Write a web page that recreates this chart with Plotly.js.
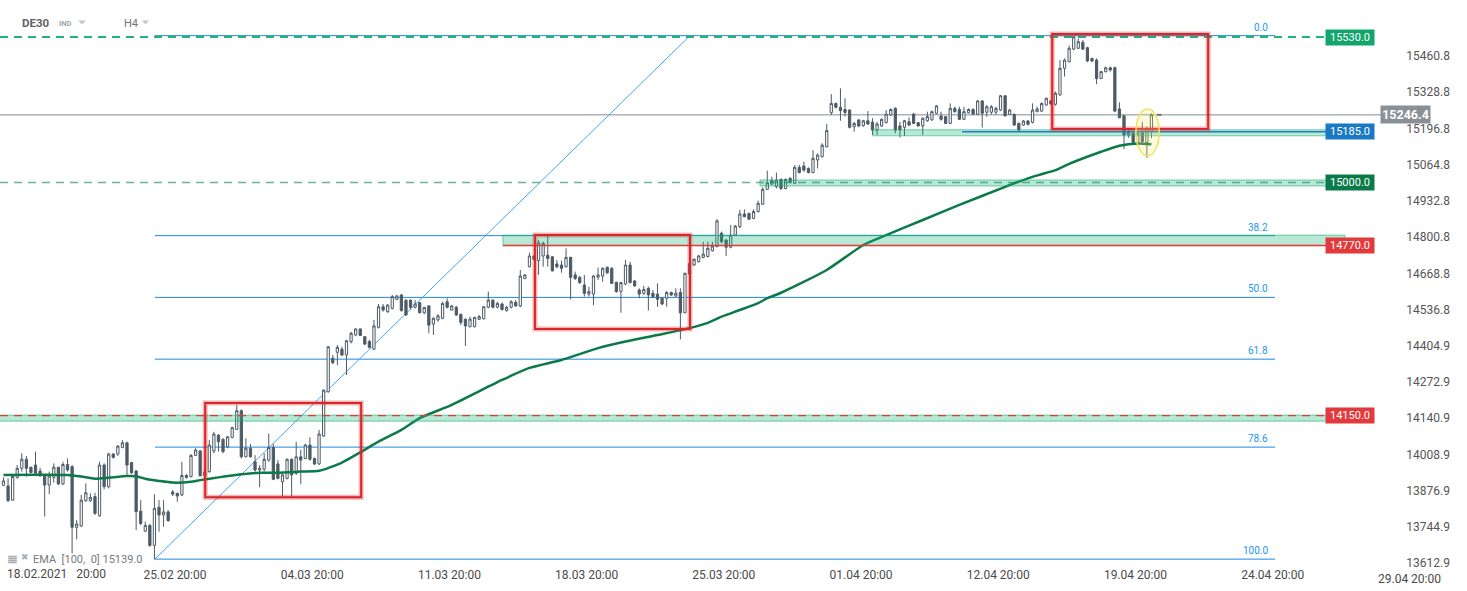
<!DOCTYPE html>
<html><head><meta charset="utf-8">
<script src="https://cdn.plot.ly/plotly-3.0.1.min.js"></script>
<style>html,body{margin:0;padding:0;background:#fff;}#chart{width:1467px;height:591px;}</style>
</head><body><div id="chart"></div>
<script>
// ---- DE30 H4 candles ----
const openP = [13896,13894,13842,13925,13958,13991,13962,13970,13948,13930,
13897,13925,13962,13901,13972,13964,13743,13748,13840,13840,
13855,13785,13970,13891,14010,14010,14034,14051,13979,13948,
13802,13729,13750,13677,13816,13788,13799,13872,13867,13861,
13932,13928,14005,14021,13931,13946,14021,14079,14064,14037,
14071,14100,14168,14000,14031,13982,13952,13955,13988,14034,
13974,13909,13921,13991,13940,14000,13994,14043,13994,13974,
14076,14237,14359,14381,14392,14371,14420,14444,14466,14438,
14420,14392,14472,14547,14529,14541,14574,14590,14571,14571,
14545,14562,14525,14550,14484,14499,14505,14565,14535,14545,
14519,14501,14474,14474,14501,14503,14545,14571,14545,14557,
14533,14545,14563,14550,14650,14693,14732,14715,14732,14735,
14729,14703,14699,14693,14727,14663,14654,14626,14593,14593,
14655,14659,14691,14687,14636,14602,14630,14699,14641,14608,
14596,14614,14596,14593,14578,14578,14599,14586,14599,14525,
14666,14699,14711,14727,14730,14751,14766,14815,14790,14764,
14808,14839,14885,14887,14869,14894,14921,14975,14994,14985,
15011,14978,15015,14997,15055,15060,15051,15036,15082,15094,
15130,15254,15288,15274,15266,15264,15203,15228,15207,15225,
15220,15191,15206,15218,15246,15270,15206,15201,15221,15249,
15218,15206,15225,15228,15252,15242,15240,15215,15270,15266,
15230,15254,15266,15248,15297,15256,15256,15256,15264,15316,
15248,15248,15215,15209,15224,15219,15258,15260,15282,15297,
15285,15319,15416,15440,15486,15489,15511,15491,15452,15446,
15379,15404,15418,15418,15268,15243,15173,15179,15139,15183,
15146,15185];
const highP = [13925,13921,13934,13970,14013,14003,13964,14019,13960,13934,
13946,13976,13964,13982,13994,13970,13770,13861,13903,13867,
13869,13982,13976,14015,14013,14043,14061,14055,13982,13952,
13842,13764,13755,13864,13842,13842,13806,13879,13869,13982,
13937,14010,14031,14025,13960,14061,14091,14083,14067,14076,
14110,14189,14173,14067,14047,14006,13970,14013,14085,14047,
13988,13940,13994,13994,14055,14025,14047,14071,13997,14098,
14246,14404,14371,14407,14401,14426,14456,14468,14468,14440,
14426,14499,14557,14557,14557,14590,14590,14593,14574,14574,
14571,14565,14547,14553,14508,14520,14565,14578,14553,14550,
14523,14505,14511,14511,14517,14550,14602,14574,14565,14562,
14550,14571,14571,14681,14666,14744,14735,14790,14784,14808,
14732,14717,14715,14760,14729,14675,14659,14663,14620,14663,
14690,14691,14693,14691,14638,14638,14717,14711,14644,14614,
14623,14620,14608,14632,14581,14604,14602,14614,14614,14671,
14711,14723,14736,14784,14784,14784,14866,14821,14793,14845,
14845,14900,14902,14890,14902,14934,14982,15043,15021,15036,
15015,15015,15019,15064,15064,15076,15055,15118,15106,15143,
15213,15322,15291,15343,15307,15266,15221,15230,15228,15260,
15234,15221,15234,15264,15270,15274,15221,15228,15237,15254,
15221,15237,15258,15262,15282,15258,15242,15288,15276,15276,
15276,15270,15270,15300,15300,15282,15282,15276,15319,15319,
15268,15252,15219,15228,15228,15288,15276,15292,15309,15300,
15331,15446,15452,15499,15535,15525,15519,15495,15455,15452,
15406,15422,15422,15422,15292,15246,15197,15187,15183,15221,
15203,15252];
const lowP = [13894,13836,13840,13921,13946,13928,13940,13934,13928,13782,
13864,13906,13897,13897,13946,13648,13699,13745,13836,13836,
13788,13782,13881,13885,13994,14003,14031,13934,13937,13733,
13751,13727,13672,13626,13727,13745,13764,13857,13836,13857,
13921,13925,14003,13928,13925,13942,14013,14019,14013,14031,
14067,14098,13994,13998,13997,13946,13889,13946,13982,13915,
13918,13855,13918,13855,13934,13900,13991,13986,13970,13970,
14073,14234,14338,14334,14367,14298,14413,14440,14440,14407,
14395,14389,14468,14529,14525,14537,14572,14529,14514,14537,
14541,14523,14520,14450,14444,14492,14501,14541,14533,14513,
14480,14404,14472,14472,14499,14501,14541,14541,14541,14533,
14529,14541,14547,14545,14647,14690,14715,14663,14693,14693,
14675,14687,14671,14690,14574,14644,14630,14584,14584,14553,
14645,14638,14666,14630,14598,14525,14626,14632,14620,14578,
14590,14533,14578,14547,14553,14547,14586,14584,14428,14523,
14663,14695,14708,14723,14727,14748,14764,14778,14732,14760,
14805,14833,14873,14863,14866,14890,14918,14973,14991,14978,
14972,14975,14997,14994,15033,15039,15033,15033,15051,15091,
15128,15246,15270,15225,15240,15197,15185,15201,15203,15209,
15173,15173,15203,15215,15242,15179,15164,15169,15206,15213,
15203,15173,15221,15225,15249,15225,15213,15213,15254,15228,
15228,15252,15246,15246,15200,15240,15248,15248,15260,15240,
15246,15207,15185,15206,15207,15215,15256,15256,15280,15282,
15280,15316,15386,15438,15483,15486,15483,15438,15438,15358,
15377,15401,15404,15256,15234,15122,15163,15143,15136,15143,
15090,15161];
const closeP = [13912,13840,13928,13958,13991,13958,13943,13940,13930,13897,
13930,13962,13901,13972,13952,13743,13755,13842,13869,13852,
13794,13970,13891,14010,13998,14039,14051,13970,13942,13800,
13757,13750,13677,13812,13788,13799,13767,13864,13857,13932,
13925,14005,14025,13931,13945,14043,14083,14055,14019,14073,
14106,14168,14000,14031,14000,13952,13958,13991,14034,13918,
13921,13934,13991,13934,14000,13988,14043,13991,13974,14083,
14243,14401,14343,14399,14371,14423,14450,14466,14442,14411,
14399,14477,14547,14535,14553,14584,14586,14533,14517,14545,
14557,14525,14544,14480,14505,14514,14559,14545,14550,14517,
14490,14477,14502,14508,14511,14547,14571,14545,14559,14537,
14545,14565,14550,14659,14663,14732,14720,14780,14778,14723,
14678,14693,14687,14727,14654,14650,14635,14596,14602,14659,
14663,14687,14671,14632,14602,14635,14699,14635,14623,14593,
14610,14590,14584,14574,14557,14599,14590,14596,14525,14669,
14705,14720,14732,14739,14760,14768,14860,14784,14764,14808,
14841,14885,14875,14866,14894,14924,14975,14999,15007,15009,
14978,15011,15003,15055,15036,15045,15036,15088,15100,15136,
15189,15288,15274,15262,15255,15201,15215,15206,15225,15213,
15191,15213,15230,15249,15266,15191,15191,15225,15209,15215,
15206,15234,15240,15258,15279,15230,15215,15270,15258,15230,
15258,15266,15249,15297,15252,15276,15276,15270,15316,15243,
15264,15209,15191,15224,15212,15264,15268,15288,15307,15287,
15325,15416,15446,15489,15531,15513,15486,15443,15443,15379,
15404,15418,15410,15260,15236,15173,15183,15146,15179,15149,
15197,15246.4];

// EMA(100) at selected bars
const emaBar   = [0,8,14,17,20,23,27,29,31,34,37,41,43,47,52,56,60,65,69,74,78,82,87,91,98,109,115,122,130,136,143,150,154,157,161,165,167,170,180,188,193,201,209,219,224,227,230,233,240,244,248,251];
const emaValue = [13934,13935,13934,13928,13920,13924,13930,13929,13920,13912,13906,13909,13915,13925,13936,13942,13942,13946,13949,13979,14016,14055,14098,14141,14189,14280,14324,14353,14396,14420,14444,14469,14488,14511,14535,14560,14578,14598,14681,14772,14808,14863,14918,14984,15015,15030,15045,15068,15112,15134,15142,15139];
const emaLabel = 'EMA  [100,  0] 15139.0';

// Axis tick labels
const xTickLabels = ['18.02.2021\u00a0\u00a0 20:00','25.02 20:00','04.03 20:00','11.03 20:00','18.03 20:00','25.03 20:00','01.04 20:00','12.04 20:00','19.04 20:00','24.04 20:00','29.04 20:00'];
const yTickValues = [15460.8,15328.8,15196.8,15064.8,14932.8,14800.8,14668.8,14536.8,14404.9,14272.9,14140.9,14008.9,13876.9,13744.9,13612.9];

// Marked price levels
const tagValues = [15530, 15185, 15000, 14770, 14150];
const tagLabels = ['15530.0','15185.0','15000.0','14770.0','14150.0'];
const lastPrice = 15246.4;
const fibRatios = [0, 38.2, 50, 61.8, 78.6, 100];
const fibHigh = 15535, fibLow = 13627;

// ---- layout helpers ----
const W = 1467, H = 591, MB = 25, PH = H - MB;
const X0 = 3.5, DX = 4.5735;              // pixel of bar 0, pixels per bar
const PX = p => p / W;                      // pixel -> paper x
const PY = p => 1 - p / PH;                 // pixel -> paper y
const bars = openP.map((_, i) => i);
const xMin = -X0 / DX, xMax = (W - X0) / DX;
const lvlEnd = (1345 - X0) / DX;
const fibStart = 33.1, fibEnd = (1275 - X0) / DX;
const firstTickBar = 7.5, barsPerWeek = 30;

const font = 'Roboto, "Open Sans", Arial, sans-serif';
const shapes = [];
const ann = [];

// zones (translucent green, drawn over candles)
const zones = [[-2, 14130, 14152], [109.2, 14770, 14808], [165.4, 14987, 15009], [190.1, 15170, 15192]];
zones.forEach(z => shapes.push({type:'rect', xref:'x', yref:'y', x0:z[0], x1:lvlEnd, y0:z[1], y1:z[2],
  fillcolor:'rgba(20,180,120,0.30)', line:{color:'rgba(20,170,110,0.55)', width:1}, layer:'above'}));

// fib retracement
const fibLvl = fibRatios.map(r => fibHigh - r / 100 * (fibHigh - fibLow));
fibLvl.forEach((v, k) => {
  shapes.push({type:'line', xref:'x', yref:'y', x0:fibStart, x1:fibEnd, y0:v, y1:v, line:{color:'#1e88e5', width:1}, layer:'below'});
  ann.push({xref:'x', yref:'y', x:fibEnd, y:v, xanchor:'right', yanchor:'bottom', xshift:-5, yshift:1, showarrow:false,
    text: fibRatios[k].toFixed(1), font:{family:font, size:10, color:'#2196f3'}});
});
shapes.push({type:'line', xref:'x', yref:'y', x0:fibStart, y0:fibLow, x1:150.1, y1:fibHigh, line:{color:'#42a5f5', width:1}, layer:'below'});

// horizontal level lines
shapes.push({type:'line', xref:'x', yref:'y', x0:xMin, x1:lvlEnd, y0:15530, y1:15530, line:{color:'#1fb577', width:2, dash:'8px,6px'}, layer:'above'});
shapes.push({type:'line', xref:'x', yref:'y', x0:xMin, x1:lvlEnd, y0:15000, y1:15000, line:{color:'rgba(15,130,85,0.6)', width:1.5, dash:'8px,6px'}, layer:'above'});
shapes.push({type:'line', xref:'x', yref:'y', x0:xMin, x1:lvlEnd, y0:14150, y1:14150, line:{color:'#e53935', width:1.2, dash:'8px,6px'}, layer:'above'});
shapes.push({type:'line', xref:'x', yref:'y', x0:109.2, x1:lvlEnd, y0:14770, y1:14770, line:{color:'#e53935', width:1.5}, layer:'above'});
shapes.push({type:'line', xref:'x', yref:'y', x0:209.6, x1:lvlEnd, y0:15185, y1:15185, line:{color:'#1e7cc8', width:1.5}, layer:'above'});
// last price line
shapes.push({type:'line', xref:'paper', yref:'y', x0:0, x1:PX(1398), y0:lastPrice, y1:lastPrice, line:{color:'#858c92', width:1}, layer:'below'});
shapes.push({type:'line', xref:'x', yref:'y', x0:bars.length + 0.2, x1:bars.length + 1.2, y0:lastPrice, y1:lastPrice, line:{color:'#6c757d', width:2}, layer:'above'});

// red boxes
const boxes = [[44.1, 78.2, 13853, 14196], [116.2, 150.1, 14466, 14808], [229.3, 263.4, 15195, 15541]];
boxes.forEach(b => {
  shapes.push({type:'rect', xref:'x', yref:'y', x0:b[0], x1:b[1], y0:b[2], y1:b[3], line:{color:'rgba(220,40,40,0.35)', width:5}, layer:'above'});
  shapes.push({type:'rect', xref:'x', yref:'y', x0:b[0], x1:b[1], y0:b[2], y1:b[3], line:{color:'#d9262b', width:2}, layer:'above'});
});
// yellow ellipse
shapes.push({type:'circle', xref:'x', yref:'y', x0:247.6, x1:252.7, y0:15097, y1:15268, fillcolor:'rgba(255,235,100,0.22)', line:{color:'#f3e15a', width:1.5}, layer:'above'});

// price tags on the right
const tagColors = ['#12a56c', '#1a79c4', '#0b7a4b', '#e23a3c', '#e23a3c'];
tagValues.forEach((v, k) => ann.push({xref:'paper', yref:'y', x:PX(1375), y:v, showarrow:false, text:tagLabels[k],
  bgcolor:tagColors[k], width:46, height:13, borderpad:1, font:{family:font, size:11, color:'#ffffff'}}));
// last price tag: arrow tip + box
shapes.push({type:'path', xref:'paper', yref:'paper', fillcolor:'#8a9196', line:{width:0}, layer:'above',
  path:`M ${PX(1397)},${PY(114.3)} L ${PX(1406)},${PY(105.8)} L ${PX(1406)},${PY(122.8)} Z`});
ann.push({xref:'paper', yref:'y', x:PX(1430.5), y:lastPrice, showarrow:false, text:'<b>' + lastPrice.toFixed(1) + '</b>',
  bgcolor:'#8a9196', width:47, height:15, borderpad:1, font:{family:font, size:12.5, color:'#ffffff'}});

// header
ann.push({xref:'paper', yref:'paper', x:PX(20), y:PY(23), xanchor:'left', yanchor:'middle', showarrow:false, text:'<b>DE30</b>', font:{family:font, size:11.5, color:'#5f6368'}});
ann.push({xref:'paper', yref:'paper', x:PX(57), y:PY(23.5), xanchor:'left', yanchor:'middle', showarrow:false, text:'<b>IND</b>', font:{family:font, size:7.5, color:'#a0a4a8'}});
ann.push({xref:'paper', yref:'paper', x:PX(122), y:PY(23.5), xanchor:'left', yanchor:'middle', showarrow:false, text:'H4', font:{family:font, size:11, color:'#6f7377'}});
[[78, 86], [142, 149]].forEach(t => shapes.push({type:'path', xref:'paper', yref:'paper', fillcolor:'#c4c7ca', line:{width:0},
  path:`M ${PX(t[0])},${PY(20.5)} L ${PX(t[1])},${PY(20.5)} L ${PX((t[0] + t[1]) / 2)},${PY(24.5)} Z`}));

// legend
ann.push({xref:'paper', yref:'paper', x:PX(5), y:PY(558), xanchor:'left', yanchor:'middle', showarrow:false, text:'<b>\u2263</b>', font:{family:font, size:13, color:'#a9adb1'}});
ann.push({xref:'paper', yref:'paper', x:PX(19), y:PY(557), xanchor:'left', yanchor:'middle', showarrow:false, text:'\u2716', font:{family:font, size:9, color:'#a9adb1'}});
ann.push({xref:'paper', yref:'paper', x:PX(31), y:PY(559), xanchor:'left', yanchor:'middle', showarrow:false, text:emaLabel, font:{family:font, size:11, color:'#777b80'}});

// first and last date labels as annotations (first is left aligned so it stays on the page)
ann.push({xref:'paper', yref:'paper', x:PX(5), y:PY(574), xanchor:'left', yanchor:'middle', showarrow:false, text:xTickLabels[0], font:{family:font, size:12, color:'#4a4a4a'}});
const lastTickBar = firstTickBar + (xTickLabels.length - 1) * barsPerWeek;
ann.push({xref:'x', yref:'paper', x:lastTickBar, y:PY(578.5), xanchor:'center', yanchor:'middle', showarrow:false, text:xTickLabels[xTickLabels.length - 1], font:{family:font, size:12, color:'#4a4a4a'}});

const traces = [
  {type:'candlestick', x:bars, open:openP, high:highP, low:lowP, close:closeP,
   increasing:{line:{color:'#4d5b66', width:1}, fillcolor:'#ffffff'},
   decreasing:{line:{color:'#4d5b66', width:1}, fillcolor:'#4d5b66'},
   whiskerwidth:0, hoverinfo:'skip', showlegend:false},
  {type:'scatter', mode:'lines', x:emaBar, y:emaValue, line:{color:'#0b7a48', width:2.5, shape:'spline', smoothing:0.6}, hoverinfo:'skip', showlegend:false}
];

const layout = {
  width:W, height:H, margin:{l:0, r:0, t:0, b:MB}, paper_bgcolor:'#ffffff', plot_bgcolor:'#ffffff',
  showlegend:false, hovermode:false, font:{family:font},
  xaxis:{range:[xMin, xMax], showgrid:false, zeroline:false, showline:false, ticks:'',
    tickvals:xTickLabels.slice(1, -1).map((_, k) => firstTickBar + (k + 1) * barsPerWeek), ticktext:xTickLabels.slice(1, -1),
    tickfont:{family:font, size:12, color:'#4a4a4a'}, rangeslider:{visible:false}, fixedrange:true, ticklabeloverflow:'allow'},
  yaxis:{range:[13602, 15665], side:'right', ticklabelposition:'inside', ticklabelstandoff:14, ticklabeloverflow:'allow',
    tickvals:yTickValues, ticktext:yTickValues.map(v => v.toFixed(1)), showgrid:false, zeroline:false, showline:false, ticks:'',
    tickfont:{family:font, size:12, color:'#555555'}, fixedrange:true},
  shapes:shapes, annotations:ann
};
Plotly.newPlot('chart', traces, layout, {staticPlot:true, displayModeBar:false});
</script></body></html>
